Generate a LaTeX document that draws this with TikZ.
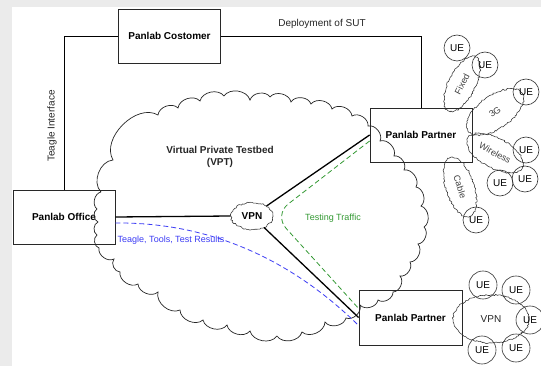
\documentclass[tikz,border=0pt]{standalone}
\usepackage{fontspec}
\setmainfont{Liberation Sans}
\usetikzlibrary{shapes.geometric,decorations.pathmorphing,calc}
\definecolor{trafgreen}{RGB}{51,153,51}
\definecolor{toolblue}{RGB}{60,60,245}
\definecolor{edgegray}{RGB}{40,40,40}
\begin{document}
\pgfmathsetseed{7}
\begin{tikzpicture}[x=1pt,y=-1pt,
  box/.style={draw=edgegray, line width=0.8pt, minimum width=102pt, minimum height=54pt, inner sep=0pt, font=\bfseries\fontsize{10}{12}\selectfont},
  link/.style={line width=0.8pt, black},
  vpnlink/.style={line width=1.3pt, black},
  fuzzy/.style={draw=black!80, line width=0.55pt, decorate, decoration={random steps, segment length=1.6pt, amplitude=0.8pt}},
  ue/.style={draw=black!80, circle, minimum size=26pt, inner sep=0pt, line width=0.6pt, font=\fontsize{10}{12}\selectfont},
  lbl/.style={font=\fontsize{10}{12}\selectfont, text=black!85},
  smalllbl/.style={font=\fontsize{9}{11}\selectfont, text=black!75},
  cloudline/.style={draw=black!85, line width=0.7pt},
  bump/.style={bend left=65}]
\useasboundingbox (0,0) rectangle (541,366);
\fill[black!8] (0,0) rectangle (541,366);
\fill[white] (12,7) rectangle (541,366);

% boxes
\node[box] (cust) at (169.5,36) {Panlab Costomer};
\node[box] (office) at (64,217) {Panlab Office};
\node[box] (p1) at (421,135) {Panlab Partner};
\node[box, minimum width=103pt, minimum height=55pt] (p2) at (410.5,317.5) {Panlab Partner};

% cloud
\draw[cloudline] (101,192) to[bump] (113,160) to[bend left=75] (158,115) to[bump] (178,108)
  to[bump] (200,101) to[bump] (224,96) to[bump] (250,100) to[bump] (270,97)
  to[bump] (291,102) to[bump] (311,104) to[bump] (332,109) to[bump] (352,116)
  to[bump] (368,126) to[bump] (380,141) to[bump] (394,156) to[bump] (404,170)
  to[bump] (416,187) to[bump] (421,206) to[bump] (424,227) to[bump] (418,244)
  to[bump] (410,262) to[bump] (400,276) to[bump] (393,292) to[bump] (378,300)
  to[bump] (360,305) to[bump] (346,318) to[bump] (325,322) to[bump] (302,332)
  to[bump] (277,336) to[bump] (250,331) to[bump] (227,325) to[bump] (203,320)
  to[bump] (180,310) to[bump] (158,292) to[bump] (138,284) to[bump] (120,272)
  to[bump] (114,259) to[bump] (99,248) to[bump] (97,235) to[bump] (98,222)
  to[bump] (97,209) to[bump] (101,192);

\node[font=\bfseries\fontsize{10}{12}\selectfont, align=center, text=black!85] (vpt) at (220,157) {Virtual Private Testbed\\(VPT)};

% central VPN
\node[fuzzy, ellipse, minimum width=42pt, minimum height=27pt, inner sep=0pt, font=\bfseries\fontsize{10}{12}\selectfont] (vpn) at (252,216) {VPN};

% connectors
\draw[link] (cust.west) -| (office.north);
\draw[link] (cust.east) -| (p1.north);
\node[lbl, rotate=90] (teagle) at (52,126) {Teagle Interface};
\node[lbl] (deploy) at (322,24) {Deployment of SUT};

\draw[vpnlink] (office.east) -- (vpn.west);
\draw[vpnlink] (vpn) -- (p1.west);
\draw[vpnlink] (vpn) -- (p2.west);

\coordinate (gs) at ([yshift=-6pt]p1.west);
\coordinate (ge) at ([yshift=9pt]p2.west);
\coordinate (gt) at (274,215);
\draw[trafgreen, line width=0.8pt, dash pattern=on 5pt off 3pt, rounded corners=18pt] (gs) -- (gt) -- (ge);
\node[font=\fontsize{9}{11}\selectfont, text=trafgreen] (traffic) at (333,218) {Testing Traffic};

\coordinate (bs) at ([yshift=-6pt]office.east);
\coordinate (be) at ([yshift=-8pt]p2.west);
\draw[toolblue, line width=0.8pt, dash pattern=on 5pt off 3pt] (bs) .. controls (220,222) and (300,268) .. (be);
\node[font=\fontsize{9}{11}\selectfont, text=toolblue] (tools) at (171,240) {Teagle, Tools, Test Results};

% top-right access networks
\node[fuzzy, ellipse, rotate=63, minimum width=60pt, minimum height=27pt, inner sep=0pt, smalllbl] (fixed) at (462,84) {Fixed};
\node[fuzzy, ellipse, rotate=35, minimum width=66pt, minimum height=33pt, inner sep=0pt, smalllbl] (g3) at (495,112) {3G};
\node[fuzzy, ellipse, rotate=-28, minimum width=62pt, minimum height=30pt, inner sep=0pt, smalllbl] (wireless) at (495,153) {Wireless};
\node[fuzzy, ellipse, rotate=-72, minimum width=62pt, minimum height=28pt, inner sep=0pt, smalllbl] (cable) at (460,187) {Cable};

\node[ue] (ue1) at (457,48) {UE};
\node[ue] (ue2) at (485,65) {UE};
\node[ue] (ue3) at (526,92) {UE};
\node[ue] (ue4) at (526,150) {UE};
\node[ue] (ue5) at (525,179) {UE};
\node[ue] (ue6) at (500,183) {UE};
\node[ue] (ue7) at (476,220) {UE};

% bottom-right VPN
\node[fuzzy, ellipse, minimum width=76pt, minimum height=48pt, inner sep=0pt, lbl] (vpn2) at (491,319) {VPN};
\node[ue, minimum size=28pt] (ue8) at (483,285) {UE};
\node[ue, minimum size=28pt] (ue9) at (516,290) {UE};
\node[ue, minimum size=28pt] (ue10) at (530,320) {UE};
\node[ue, minimum size=28pt] (ue11) at (516,348) {UE};
\node[ue, minimum size=28pt] (ue12) at (482,350) {UE};
\end{tikzpicture}
\end{document}
